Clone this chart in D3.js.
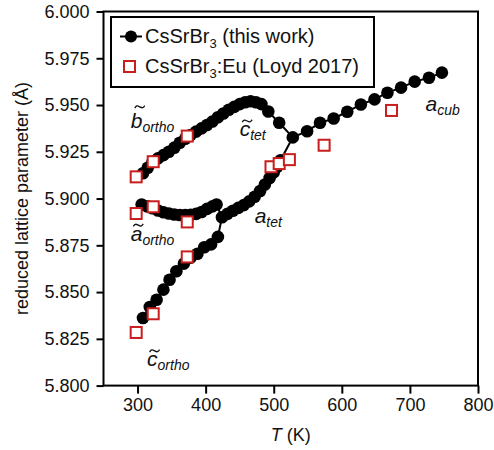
<!DOCTYPE html>
<html>
<head>
<meta charset="utf-8">
<script src="https://cdn.jsdelivr.net/npm/d3@7/dist/d3.min.js"></script>
<style>
  body { margin: 0; background: #fff; }
  text { font-family: "Liberation Sans", Arial, sans-serif; }
</style>
</head>
<body>
<svg id="chart"></svg>
<script>
// black series, [T (K), lattice parameter (Å)]
const cOrtho = [[308,5.8361],[318,5.8420],[328,5.8459],[338,5.8513],[347,5.8566],[357,5.8611],
  [368,5.8652],[378,5.8684],[388,5.8705],[398,5.8740],[408,5.8755],[418,5.8795]];
const aOrtho = [[306,5.8968],[314,5.8958],[322,5.8948],[330,5.8936],[338,5.8927],[346,5.8920],
  [354,5.8915],[362,5.8912],[370,5.8912],[378,5.8913],[386,5.8918],[394,5.8928],[402,5.8945],
  [410,5.8958],[416,5.8968]];
const bOrtho = [[308,5.9135],[315,5.9165],[322,5.9195],[330,5.9215],[338,5.9232],[346,5.9250],
  [354,5.9272],[362,5.9298],[370,5.9320],[378,5.9340],[386,5.9358],[394,5.9375],[402,5.9393],
  [410,5.9412],[418,5.9435],[426,5.9455],[434,5.9475],[442,5.9490],[450,5.9505],[458,5.9515],
  [466,5.9520],[474,5.9515],[482,5.9505],[492,5.9465],[508,5.9405]];
const aTet = [[424,5.8900],[432,5.8918],[440,5.8935],[448,5.8950],[456,5.8965],[464,5.8985],
  [472,5.9010],[480,5.9040],[487,5.9075],[494,5.9110],[500,5.9140],[505,5.9170],[510,5.9205]];
const aCub = [[528,5.9327],[549,5.9360],[568,5.9405],[588,5.9428],[608,5.9464],[628,5.9503],
  [648,5.9530],[667,5.9566],[687,5.9593],[707,5.9625],[728,5.9646],[747,5.9673]];

// red squares, CsSrBr3:Eu (Loyd 2017)
const loyd = [[298,5.9116],[323,5.9197],[373,5.9334],[298,5.8920],[323,5.8956],[373,5.8875],
  [373,5.8688],[323,5.8384],[298,5.8284],[496,5.9170],[508,5.9187],[523,5.9208],[574,5.9285],
  [673,5.9471]];

const xTicks = [300, 400, 500, 600, 700, 800];
const yTicks = [5.800, 5.825, 5.850, 5.875, 5.900, 5.925, 5.950, 5.975, 6.000];

// phase labels: letter, subscript, tilde, anchor [T, value]
const labels = [
  {main: "b", sub: "ortho", tilde: true, at: [290, 5.9378]},
  {main: "c", sub: "tet", tilde: true, at: [450, 5.9332]},
  {main: "a", sub: "ortho", tilde: true, at: [290, 5.8775]},
  {main: "a", sub: "tet", tilde: false, at: [472, 5.8869]},
  {main: "c", sub: "ortho", tilde: true, at: [314, 5.8103]},
  {main: "a", sub: "cub", tilde: false, at: [723, 5.9467]}
];

const width = 494;
const height = 450;
const red = "#c81e1e";

let svg = d3.select("#chart")
  .attr("width", width)
  .attr("height", height);

let x = d3.scaleLinear().domain([250, 800]).range([103.5, 478]);
let y = d3.scaleLinear().domain([5.8, 6.0]).range([385.6, 11.5]);

let gx = svg.append("g")
  .attr("transform", `translate(0, ${y(5.8)})`)
  .call(d3.axisBottom(x).tickValues(xTicks).tickSize(8).tickPadding(5).tickSizeOuter(0));
gx.select(".domain").remove();

let gy = svg.append("g")
  .attr("transform", `translate(${x(250)}, 0)`)
  .call(d3.axisLeft(y).tickValues(yTicks).tickFormat(d3.format(".3f")).tickSize(7).tickPadding(7).tickSizeOuter(0));
gy.select(".domain").remove();

svg.selectAll(".tick line").attr("stroke", "#000").attr("stroke-width", 2);
svg.selectAll(".tick text").attr("font-size", 18).attr("fill", "#111")
  .style("font-family", "'Liberation Sans', Arial, sans-serif");

svg.append("rect")
  .attr("x", x(250))
  .attr("y", y(6.0))
  .attr("width", x(800) - x(250))
  .attr("height", y(5.8) - y(6.0))
  .attr("fill", "none")
  .attr("stroke", "#000")
  .attr("stroke-width", 2);

// axis titles
svg.append("text")
  .attr("transform", `translate(28, ${(y(5.8) + y(6.0)) / 2}) rotate(-90)`)
  .attr("text-anchor", "middle")
  .attr("font-size", 18)
  .attr("fill", "#111")
  .text("reduced lattice parameter (Å)");

let xt = svg.append("text")
  .attr("x", (x(250) + x(800)) / 2)
  .attr("y", 441)
  .attr("text-anchor", "middle")
  .attr("font-size", 18)
  .attr("fill", "#111");
xt.append("tspan").attr("font-style", "italic").text("T");
xt.append("tspan").text(" (K)");

// connected lines
let line = d3.line().x(d => x(d[0])).y(d => y(d[1]));
let paths = [
  cOrtho.concat(aTet, aCub),
  aOrtho.concat([aTet[0]]),
  bOrtho.concat([aCub[0]])
];
svg.selectAll(".series")
  .data(paths)
  .enter()
  .append("path")
  .attr("d", line)
  .attr("fill", "none")
  .attr("stroke", "#000")
  .attr("stroke-width", 2);

let dots = [].concat(cOrtho, aOrtho, bOrtho, aTet, aCub);
svg.selectAll(".dot")
  .data(dots)
  .enter()
  .append("circle")
  .attr("cx", d => x(d[0]))
  .attr("cy", d => y(d[1]))
  .attr("r", 6.3)
  .attr("fill", "#000");

let sq = 11;
svg.selectAll(".sq")
  .data(loyd)
  .enter()
  .append("rect")
  .attr("x", d => x(d[0]) - sq / 2)
  .attr("y", d => y(d[1]) - sq / 2)
  .attr("width", sq)
  .attr("height", sq)
  .attr("fill", "#fff")
  .attr("stroke", red)
  .attr("stroke-width", 2);

// phase labels, tilde drawn as a small wave above the letter
let tildeLine = d3.line().curve(d3.curveBasis);
labels.forEach(l => {
  let px = x(l.at[0]);
  let py = y(l.at[1]);
  let t = svg.append("text")
    .attr("x", px)
    .attr("y", py)
    .attr("font-style", "italic")
    .attr("fill", "#111");
  t.append("tspan").attr("font-size", 21).text(l.main);
  t.append("tspan").attr("font-size", 14).attr("dy", 4).text(l.sub);
  if (l.tilde) {
    let cx = px + (l.main == "b" ? 9 : 7.5);
    let cy = py - (l.main == "b" ? 21 : 15.5);
    svg.append("path")
      .attr("d", tildeLine([[cx - 5, cy + 1.2], [cx - 3, cy - 1.6], [cx, cy], [cx + 3, cy + 1.6], [cx + 5, cy - 1.2]]))
      .attr("fill", "none")
      .attr("stroke", "#111")
      .attr("stroke-width", 1.3);
  }
});

// legend
let lg = svg.append("g");
lg.append("rect")
  .attr("x", 111)
  .attr("y", 17)
  .attr("width", 263)
  .attr("height", 70)
  .attr("fill", "#fff")
  .attr("stroke", "#000")
  .attr("stroke-width", 2);
lg.append("line")
  .attr("x1", 120).attr("x2", 142)
  .attr("y1", 36.5).attr("y2", 36.5)
  .attr("stroke", "#000").attr("stroke-width", 2);
lg.append("circle").attr("cx", 131).attr("cy", 36.5).attr("r", 6).attr("fill", "#000");
lg.append("rect")
  .attr("x", 129.5 - sq / 2).attr("y", 66.5 - sq / 2)
  .attr("width", sq).attr("height", sq)
  .attr("fill", "#fff").attr("stroke", red).attr("stroke-width", 2);

let lt1 = lg.append("text").attr("x", 145).attr("y", 43).attr("font-size", 20).attr("fill", "#111");
lt1.append("tspan").text("CsSrBr");
lt1.append("tspan").attr("font-size", 13).attr("dy", 5).text("3");
lt1.append("tspan").attr("dy", -5).text(" (this work)");

let lt2 = lg.append("text").attr("x", 145).attr("y", 73).attr("font-size", 20).attr("fill", "#111");
lt2.append("tspan").text("CsSrBr");
lt2.append("tspan").attr("font-size", 13).attr("dy", 5).text("3");
lt2.append("tspan").attr("dy", -5).text(":Eu (Loyd 2017)");
</script>
</body>
</html>
